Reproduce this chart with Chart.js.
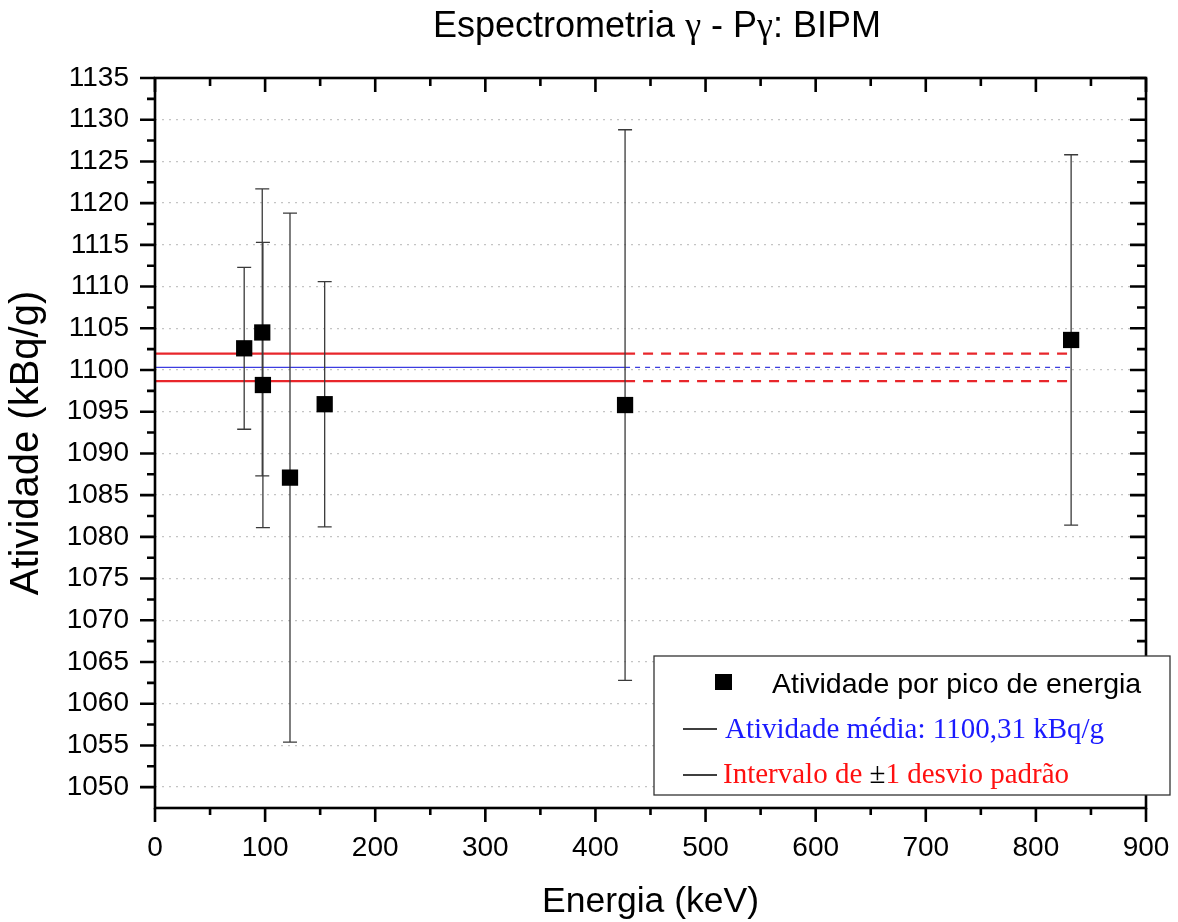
<!DOCTYPE html>
<html lang="pt">
<head>
<meta charset="UTF-8">
<title>Espectrometria γ - Pγ: BIPM</title>
<style>
  body { margin: 0; background: #fff; }
  canvas { display: block; }
</style>
</head>
<body>
<canvas id="atividadeChart" width="1178" height="922"></canvas>
<script src="https://cdn.jsdelivr.net/npm/chart.js"></script>
<script>
// Energia de cada pico (keV), atividade obtida (kBq/g) e incerteza
const energias = [81.0, 97.4, 98.0, 122.6, 154.1, 426.9, 832.0];
const atividades = [1102.6, 1104.5, 1098.2, 1087.1, 1095.9, 1095.8, 1103.6];
const incertezas = [9.7, 17.2, 17.1, 31.7, 14.7, 33.0, 22.2];

// Atividade média e intervalo de ±1 desvio padrão
const atividadeMedia = 1100.31;
const desvioPadrao = 1.65;
// contínua até o pico de 427 keV, tracejada até o de 832 keV
const extensaoLinhas = [0, 426.9, 832.0];

const SANS = "'Liberation Sans', Arial, sans-serif";
const SERIF = "'Liberation Serif', 'Times New Roman', serif";

function linhaHorizontal(valor) {
  return extensaoLinhas.map(x => ({ x: x, y: valor }));
}

function tracejado(padrao) {
  return { borderDash: ctx => ctx.p0DataIndex >= 1 ? padrao : undefined };
}

// barras de erro desenhadas logo antes dos quadrados
const barrasErro = {
  id: 'barrasErro',
  beforeDatasetDraw(chart, args) {
    if (args.index !== 0) return;
    const { ctx, scales: { x, y } } = chart;
    ctx.save();
    ctx.strokeStyle = '#3a3a3a';
    ctx.lineWidth = 1.3;
    energias.forEach((e, i) => {
      const px = x.getPixelForValue(e);
      const topo = y.getPixelForValue(atividades[i] + incertezas[i]);
      const base = y.getPixelForValue(atividades[i] - incertezas[i]);
      ctx.beginPath();
      ctx.moveTo(px, topo); ctx.lineTo(px, base);
      ctx.moveTo(px - 7, topo); ctx.lineTo(px + 7, topo);
      ctx.moveTo(px - 7, base); ctx.lineTo(px + 7, base);
      ctx.stroke();
    });
    ctx.restore();
  }
};

// moldura com marcas principais e secundárias nos quatro lados
const moldura = {
  id: 'moldura',
  afterDraw(chart) {
    const { ctx, chartArea: a, scales: { x, y } } = chart;
    ctx.save();
    ctx.strokeStyle = '#000';
    ctx.lineWidth = 2.6;
    ctx.beginPath();
    for (let v = 0; v <= 900; v += 50) {
      const px = x.getPixelForValue(v);
      const principal = v % 100 === 0;
      ctx.moveTo(px, a.bottom); ctx.lineTo(px, a.bottom + (principal ? 14 : 7));
      ctx.moveTo(px, a.top); ctx.lineTo(px, a.top + (principal ? 14 : 8));
    }
    for (let v = 1050; v <= 1135; v += 2.5) {
      const py = y.getPixelForValue(v);
      const principal = v % 5 === 0;
      ctx.moveTo(a.left, py); ctx.lineTo(a.left - (principal ? 15 : 8), py);
      ctx.moveTo(a.right, py); ctx.lineTo(a.right - (principal ? 16 : 9), py);
    }
    ctx.stroke();
    ctx.strokeRect(a.left, a.top, a.right - a.left, a.bottom - a.top);
    ctx.restore();
  }
};

// título com γ em fonte serifada
const titulo = {
  id: 'titulo',
  afterDraw(chart) {
    const ctx = chart.ctx;
    const partes = [['Espectrometria ', SANS], ['γ', SERIF], [' - P', SANS], ['γ', SERIF], [': BIPM', SANS]];
    ctx.save();
    ctx.fillStyle = '#000';
    ctx.textBaseline = 'alphabetic';
    let total = 0;
    partes.forEach(p => { ctx.font = '36px ' + p[1]; total += ctx.measureText(p[0]).width; });
    let x = 657 - total / 2;
    partes.forEach(p => {
      ctx.font = '36px ' + p[1];
      ctx.fillText(p[0], x, 37);
      x += ctx.measureText(p[0]).width;
    });
    ctx.restore();
  }
};

// legenda em caixa no canto inferior direito
const legenda = {
  id: 'legenda',
  afterDraw(chart) {
    const ctx = chart.ctx;
    ctx.save();
    ctx.fillStyle = '#fff';
    ctx.fillRect(654, 656, 516, 139);
    ctx.strokeStyle = '#333';
    ctx.lineWidth = 1.3;
    ctx.strokeRect(654, 656, 516, 139);

    ctx.fillStyle = '#000';
    ctx.fillRect(715, 674, 17, 16);
    ctx.textBaseline = 'alphabetic';
    ctx.font = '28.5px ' + SANS;
    ctx.fillText(chart.data.datasets[0].label, 772, 693);

    ctx.strokeStyle = '#000';
    ctx.lineWidth = 1.3;
    ctx.beginPath();
    ctx.moveTo(683, 729); ctx.lineTo(717, 729);
    ctx.moveTo(683, 775); ctx.lineTo(717, 775);
    ctx.stroke();

    ctx.font = '29px ' + SERIF;
    ctx.fillStyle = '#1a1aff';
    ctx.fillText('Atividade média: ' + atividadeMedia.toFixed(2).replace('.', ',') + ' kBq/g', 725, 738);

    let x = 723;
    [['Intervalo de ', '#ff1010'], ['±', '#000'], ['1 desvio padrão', '#ff1010']].forEach(p => {
      ctx.fillStyle = p[1];
      ctx.fillText(p[0], x, 783);
      x += ctx.measureText(p[0]).width;
    });
    ctx.restore();
  }
};

const ctx = document.getElementById('atividadeChart').getContext('2d');
new Chart(ctx, {
  type: 'scatter',
  data: {
    datasets: [
      {
        label: 'Atividade por pico de energia',
        data: energias.map((e, i) => ({ x: e, y: atividades[i] })),
        pointStyle: 'rect',
        pointRadius: 11.5,
        backgroundColor: '#000',
        borderWidth: 0,
        showLine: false,
        order: 0
      },
      {
        label: 'Atividade média',
        data: linhaHorizontal(atividadeMedia),
        showLine: true,
        borderColor: '#3c3ce0',
        borderWidth: 1.3,
        pointRadius: 0,
        segment: tracejado([5, 5]),
        order: 1
      },
      {
        label: '+1 desvio padrão',
        data: linhaHorizontal(atividadeMedia + desvioPadrao),
        showLine: true,
        borderColor: '#e8262b',
        borderWidth: 2.2,
        pointRadius: 0,
        segment: tracejado([10, 8]),
        order: 1
      },
      {
        label: '-1 desvio padrão',
        data: linhaHorizontal(atividadeMedia - desvioPadrao),
        showLine: true,
        borderColor: '#e8262b',
        borderWidth: 2.2,
        pointRadius: 0,
        segment: tracejado([10, 8]),
        order: 1
      }
    ]
  },
  options: {
    responsive: false,
    animation: false,
    devicePixelRatio: 1,
    events: [],
    layout: { padding: { top: 78, right: 32, left: 0, bottom: 0 } },
    plugins: {
      legend: { display: false },
      tooltip: { enabled: false },
      title: { display: false }
    },
    scales: {
      x: {
        type: 'linear',
        min: 0,
        max: 900,
        ticks: {
          stepSize: 100,
          maxRotation: 0,
          autoSkip: false,
          padding: 15,
          color: '#000',
          font: { family: SANS, size: 28 },
          callback: v => String(v)
        },
        grid: { display: false },
        border: { display: false },
        title: {
          display: true,
          text: 'Energia (keV)',
          color: '#000',
          font: { family: SANS, size: 35.5, lineHeight: 1 },
          padding: { top: 0, bottom: 2 }
        },
        afterFit(scale) {
          scale.height = 114;
          scale.paddingLeft = 0;
          scale.paddingRight = 0;
        }
      },
      y: {
        min: 1047.5,
        max: 1135,
        ticks: {
          stepSize: 5,
          includeBounds: false,
          padding: 26,
          color: '#000',
          font: { family: SANS, size: 28 },
          callback: v => String(v)
        },
        grid: { color: '#c4c4c4', lineWidth: 1.3, drawTicks: false },
        border: { display: false, dash: [2, 5] },
        title: {
          display: true,
          text: 'Atividade (kBq/g)',
          color: '#000',
          font: { family: SANS, size: 40, lineHeight: 1 },
          padding: { top: 7, bottom: 0 }
        },
        afterFit(scale) {
          scale.width = 155;
          scale.paddingTop = 0;
          scale.paddingBottom = 0;
        }
      }
    }
  },
  plugins: [barrasErro, moldura, titulo, legenda]
});
</script>
</body>
</html>
